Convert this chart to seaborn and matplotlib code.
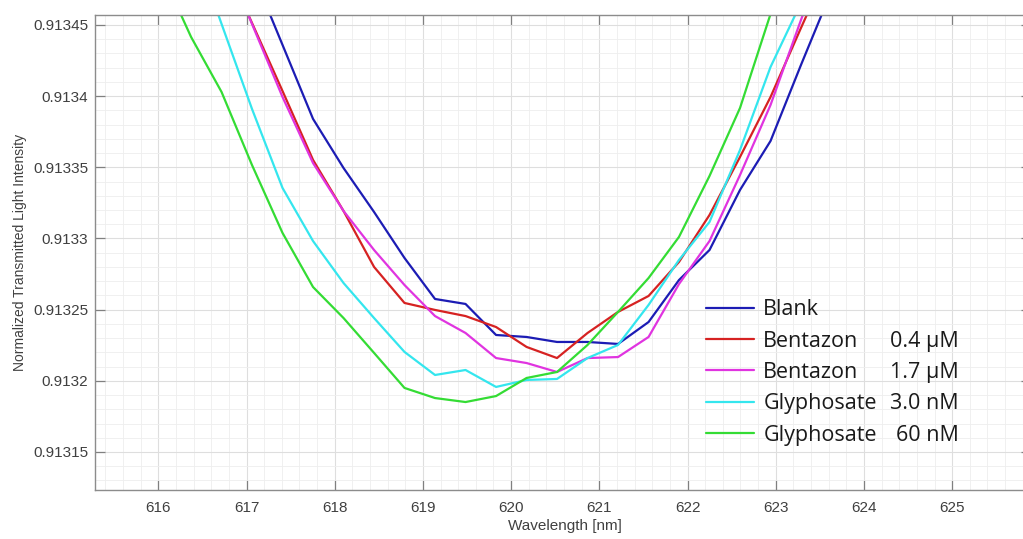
import numpy as np
import pandas as pd
import matplotlib
matplotlib.use("Agg")
import matplotlib.pyplot as plt
import seaborn as sns
from matplotlib.ticker import MultipleLocator, FuncFormatter
from matplotlib.lines import Line2D

# ---------------- data ----------------
wavelength = [616.025, 616.371, 616.717, 617.062, 617.408, 617.754, 618.100,
              618.446, 618.791, 619.137, 619.483, 619.829, 620.175, 620.520,
              620.866, 621.212, 621.558, 621.903, 622.249, 622.595, 622.941,
              623.286, 623.632]

blank = [0.9136292, 0.9135800, 0.9135392, 0.9134879, 0.9134360, 0.9133840,
         0.9133495, 0.9133186, 0.9132863, 0.9132575, 0.9132540, 0.9132322,
         0.9132308, 0.9132273, 0.9132273, 0.9132259, 0.9132413, 0.9132708,
         0.9132919, 0.9133341, 0.9133685, 0.9134219, 0.9134739]

bentazon_04 = [0.9135940, 0.9135449, 0.9134992, 0.9134514, 0.9134036, 0.9133552,
               0.9133193, 0.9132800, 0.9132547, 0.9132498, 0.9132455, 0.9132378,
               0.9132238, 0.9132160, 0.9132336, 0.9132484, 0.9132596, 0.9132835,
               0.9133165, 0.9133573, 0.9133994, 0.9134479, 0.9134957]

bentazon_17 = [0.9136011, 0.9135484, 0.9135020, 0.9134507, 0.9133994, 0.9133530,
               0.9133193, 0.9132919, 0.9132673, 0.9132455, 0.9132336, 0.9132160,
               0.9132125, 0.9132062, 0.9132160, 0.9132167, 0.9132308, 0.9132680,
               0.9132982, 0.9133446, 0.9133938, 0.9134535, 0.9135097]

glyphosate_30 = [0.9135730, 0.9135111, 0.9134507, 0.9133910, 0.9133355, 0.9132982,
                 0.9132687, 0.9132441, 0.9132203, 0.9132041, 0.9132076, 0.9131957,
                 0.9132006, 0.9132013, 0.9132160, 0.9132252, 0.9132533, 0.9132849,
                 0.9133116, 0.9133622, 0.9134205, 0.9134655, 0.9135097]

glyphosate_60 = [0.9134886, 0.9134416, 0.9134029, 0.9133516, 0.9133039, 0.9132659,
                 0.9132441, 0.9132196, 0.9131950, 0.9131879, 0.9131851, 0.9131893,
                 0.9132020, 0.9132062, 0.9132252, 0.9132484, 0.9132722, 0.9133011,
                 0.9133439, 0.9133917, 0.9134577, 0.9135238, 0.9135870]

series_keys = ["Blank", "Bentazon 0.4 µM", "Bentazon 1.7 µM",
               "Glyphosate 3.0 nM", "Glyphosate 60 nM"]
legend_names = ["Blank", "Bentazon", "Bentazon", "Glyphosate", "Glyphosate"]
legend_conc = ["", "0.4 µM", "1.7 µM", "3.0 nM", "60 nM"]
series_values = [blank, bentazon_04, bentazon_17, glyphosate_30, glyphosate_60]
colors = ["#1c1cb4", "#d62222", "#e034e0", "#34e6ee", "#34dc34"]

x_label = "Wavelength [nm]"
y_label = "Normalized Transmitted Light Intensity"

# ---------------- build frame ----------------
df = pd.concat(
    [pd.DataFrame({"wavelength": wavelength, "intensity": v, "series": k})
     for k, v in zip(series_keys, series_values)],
    ignore_index=True)

sns.set_theme(style="white")
plt.rcParams["font.family"] = ["Liberation Sans", "DejaVu Sans"]

W, H = 1023, 539
fig = plt.figure(figsize=(W / 100, H / 100), dpi=100)
ax_l, ax_r, ax_t, ax_b = 95, 1031, 15, 490
ax = fig.add_axes([ax_l / W, 1 - ax_b / H, (ax_r - ax_l) / W, (ax_b - ax_t) / H])

sns.lineplot(data=df, x="wavelength", y="intensity", hue="series",
             hue_order=series_keys, palette=dict(zip(series_keys, colors)),
             sort=False, estimator=None, linewidth=1.6, ax=ax, legend=False)

ax.set_xlim(615.282, 625.894)
ax.set_ylim(0.9131233, 0.913457)

ax.xaxis.set_major_locator(MultipleLocator(1))
ax.xaxis.set_minor_locator(MultipleLocator(0.2))
ax.yaxis.set_major_locator(MultipleLocator(0.00005))
ax.yaxis.set_minor_locator(MultipleLocator(0.00001))
ax.yaxis.set_major_formatter(FuncFormatter(
    lambda v, p: f"{v:.5f}".rstrip("0").rstrip(".")))
ax.xaxis.set_major_formatter(FuncFormatter(lambda v, p: f"{v:.0f}"))

ax.grid(which="major", color="#dedede", linewidth=0.8)
ax.grid(which="minor", color="#eeeeee", linewidth=0.6)
ax.set_axisbelow(True)

ax.tick_params(which="major", direction="in", length=7, width=0.9,
               color="#808080", labelsize=11, labelcolor="#404040",
               top=True, right=True, bottom=True, left=True)
ax.tick_params(axis="x", pad=8)
ax.tick_params(axis="y", pad=5)
ax.tick_params(which="minor", length=0)
for s in ax.spines.values():
    s.set_color("#8c8c8c")
    s.set_linewidth(1.0)

ax.set_xlabel(x_label, fontsize=11, color="#404040")
ax.set_ylabel(y_label, fontsize=10, color="#404040")
ax.xaxis.set_label_coords((564.5 - ax_l) / (ax_r - ax_l), -(519 - ax_b) / (ax_b - ax_t))
ax.yaxis.set_label_coords(-(ax_l - 27) / (ax_r - ax_l), 0.5)

# ---------------- legend ----------------
handles = [Line2D([0], [0], color=c, linewidth=1.6) for c in colors]
leg_font = {"family": ["Open Sans", "DejaVu Sans"], "size": 15.5}
leg = ax.legend(handles, legend_names, loc="upper left",
                bbox_to_anchor=((697 - 8 - ax_l) / (ax_r - ax_l),
                                (ax_b - 282) / (ax_b - ax_t)),
                frameon=False, prop=leg_font, handlelength=2.2,
                handletextpad=0.45, labelspacing=0.48, borderpad=0.3)
for t in leg.get_texts():
    t.set_color("#1a1a1a")

fig.canvas.draw()
for t, conc in zip(leg.get_texts(), legend_conc):
    if not conc:
        continue
    bb = t.get_window_extent()
    fig.text(959 / W, bb.y0 / H, conc, ha="right", va="bottom",
             fontfamily=["Open Sans", "DejaVu Sans"], fontsize=15.5,
             color="#1a1a1a")

fig.savefig("out.png", dpi=100)
